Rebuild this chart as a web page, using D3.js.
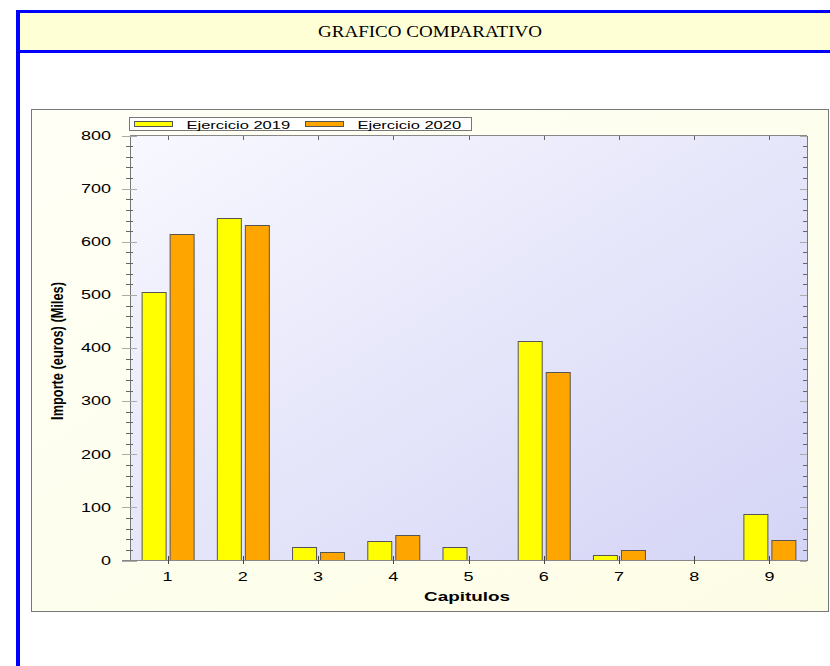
<!DOCTYPE html>
<html><head><meta charset="utf-8">
<script src="https://cdn.jsdelivr.net/npm/d3@7"></script>
<style>html,body{margin:0;padding:0;background:#fff;}svg{display:block;}</style>
</head><body>
<script>
const categories = ["1","2","3","4","5","6","7","8","9"];
const seriesNames = ["Ejercicio 2019","Ejercicio 2020"];
const values2019 = [506, 645, 25, 37, 26, 414, 11, 0, 88];
const values2020 = [614, 631, 16, 48, 0, 355, 19, 0, 39];
const yTicks = [0,100,200,300,400,500,600,700,800];
const colors = ["#ffff00","#ffa500"];
const title = "GRAFICO COMPARATIVO";
const xTitle = "Capitulos";
const yTitle = "Importe (euros) (Miles)";

const W = 830, H = 666, S = 1.5;
const svg = d3.select("body").append("svg").attr("width", W).attr("height", H);
const defs = svg.append("defs");
const g1 = defs.append("linearGradient").attr("id","plotbg").attr("x1","0").attr("y1","0").attr("x2","1").attr("y2","1");
g1.append("stop").attr("offset","0").attr("stop-color","#f8f8ff");
g1.append("stop").attr("offset","1").attr("stop-color","#d4d4f6");
const g2 = defs.append("linearGradient").attr("id","panelbg").attr("x1","0").attr("y1","0").attr("x2","1").attr("y2","1");
g2.append("stop").attr("offset","0").attr("stop-color","#fffff6");
g2.append("stop").attr("offset","1").attr("stop-color","#fdfde6");

// page header
svg.append("rect").attr("x",16).attr("y",13).attr("width",W-16).attr("height",38).attr("fill","#ffffd6");
svg.append("rect").attr("x",16).attr("y",10).attr("width",W-16).attr("height",3).attr("fill","#0000ff");
svg.append("rect").attr("x",16).attr("y",50).attr("width",W-16).attr("height",3).attr("fill","#0000ff");
svg.append("rect").attr("x",16).attr("y",10).attr("width",4).attr("height",H-10).attr("fill","#0000ff");
svg.append("text").attr("transform","translate(430,37) scale(1.12,1)").attr("text-anchor","middle")
  .attr("font-family","'Liberation Serif','Times New Roman',serif").attr("font-size",17).attr("fill","#000").text(title);

// chart panel
svg.append("rect").attr("x",31.5).attr("y",109.5).attr("width",797).attr("height",502)
  .attr("fill","url(#panelbg)").attr("stroke","#777").attr("stroke-width",1);

const L = 130, R = 807, T = 135.5, B = 560.5;
const x = d3.scaleBand().domain(categories).range([L, R]).paddingInner(0).paddingOuter(0);
const y = d3.scaleLinear().domain([0, 800]).range([B, T]);
const xs = d3.scaleBand().domain(seriesNames).range([-26, 26]).paddingInner(0.1429).paddingOuter(0);

svg.append("rect").attr("x",L).attr("y",T).attr("width",R-L).attr("height",B-T).attr("fill","url(#plotbg)");

// bars
const data = [];
categories.forEach((c,i)=>{
  data.push({c, s:seriesNames[0], v:values2019[i], col:colors[0]});
  data.push({c, s:seriesNames[1], v:values2020[i], col:colors[1]});
});
svg.append("g").selectAll("rect").data(data.filter(d=>d.v>0)).join("rect")
  .attr("x", d=> x(d.c) + x.bandwidth()/2 + xs(d.s) + 0.5)
  .attr("y", d=> Math.round(y(d.v)) + 0.5)
  .attr("width", xs.bandwidth())
  .attr("height", d=> B - (Math.round(y(d.v))+0.5))
  .attr("fill", d=>d.col).attr("stroke","#555").attr("stroke-width",1);

const ax = svg.append("g").attr("stroke-width",1).attr("shape-rendering","crispEdges");
// frame
ax.append("line").attr("x1",L).attr("x2",R).attr("y1",T).attr("y2",T).attr("stroke","#888");
ax.append("line").attr("x1",R).attr("x2",R).attr("y1",T).attr("y2",B).attr("stroke","#777");
ax.append("line").attr("x1",L).attr("x2",L).attr("y1",T).attr("y2",B).attr("stroke","#777");
ax.append("line").attr("x1",L-8).attr("x2",R).attr("y1",B).attr("y2",B).attr("stroke","#888");

// y ticks
const minor = y.ticks(40).filter(v=>!yTicks.includes(v));
ax.selectAll(".ymn").data(minor).join("line")
  .attr("x1",L-4).attr("x2",L+3).attr("y1",d=>Math.round(y(d))).attr("y2",d=>Math.round(y(d))).attr("stroke","#666");
ax.selectAll(".ymj").data(yTicks).join("line")
  .attr("x1",L-8).attr("x2",L+7).attr("y1",d=>Math.round(y(d))).attr("y2",d=>Math.round(y(d))).attr("stroke","#aaa");
ax.selectAll(".yrmn").data(minor).join("line")
  .attr("x1",R-4).attr("x2",R).attr("y1",d=>Math.round(y(d))).attr("y2",d=>Math.round(y(d))).attr("stroke","#666");
ax.selectAll(".yrmj").data(yTicks).join("line")
  .attr("x1",R-7).attr("x2",R).attr("y1",d=>Math.round(y(d))).attr("y2",d=>Math.round(y(d))).attr("stroke","#aaa");
// x ticks
ax.selectAll(".xb").data(categories).join("line")
  .attr("x1",d=>Math.round(x(d)+x.bandwidth()/2)).attr("x2",d=>Math.round(x(d)+x.bandwidth()/2))
  .attr("y1",B-5).attr("y2",B+3).attr("stroke","#444");
ax.selectAll(".xt").data(categories).join("line")
  .attr("x1",d=>Math.round(x(d)+x.bandwidth()/2)).attr("x2",d=>Math.round(x(d)+x.bandwidth()/2))
  .attr("y1",T).attr("y2",T+4).attr("stroke","#666");

const font = "'Liberation Sans',Arial,sans-serif";
// y labels
svg.append("g").selectAll("text").data(yTicks).join("text")
  .attr("transform", d=>`translate(111,${y(d)+4.3}) scale(${S},1)`)
  .attr("text-anchor","end").attr("font-family",font).attr("font-size",12).attr("fill","#000").text(d=>d);
// x labels
svg.append("g").selectAll("text").data(categories).join("text")
  .attr("transform", d=>`translate(${x(d)+x.bandwidth()/2},580.5) scale(${S},1)`)
  .attr("text-anchor","middle").attr("font-family",font).attr("font-size",12).attr("fill","#000").text(d=>d);
// axis titles
svg.append("text").attr("transform",`translate(467,600.5) scale(${S},1)`)
  .attr("text-anchor","middle").attr("font-family",font).attr("font-weight","bold").attr("font-size",12.6).attr("fill","#000").text(xTitle);
svg.append("text").attr("transform",`translate(63,351) scale(1.35,1) rotate(-90)`)
  .attr("text-anchor","middle").attr("font-family",font).attr("font-weight","bold").attr("font-size",12.8).attr("fill","#000").text(yTitle);

// legend
const lg = svg.append("g");
lg.append("rect").attr("x",129.5).attr("y",117.5).attr("width",342).attr("height",13).attr("fill","#fff").attr("stroke","#777");
const legX = [134, 305];
seriesNames.forEach((s,i)=>{
  lg.append("rect").attr("x",legX[i]+0.5).attr("y",121.5).attr("width",38).attr("height",5).attr("fill",colors[i]).attr("stroke","#555");
  lg.append("text").attr("transform",`translate(${legX[i]+52.5},128.5) scale(${S},1)`)
    .attr("font-family",font).attr("font-size",11).attr("fill","#000").text(s);
});
</script>
</body></html>
